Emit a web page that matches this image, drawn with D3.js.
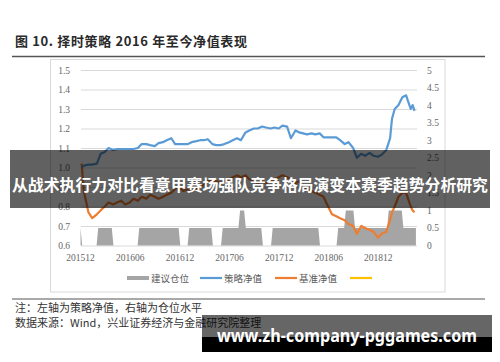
<!DOCTYPE html>
<html>
<head>
<meta charset="utf-8">
<script src="https://cdn.jsdelivr.net/npm/d3@7"></script>
<style>
  body { margin: 0; background: #fff; }
  svg { display: block; }
</style>
</head>
<body>
<div class="canvas"></div>
<script>
// net value series (semi-monthly samples)
const navDates = [
  "2015-12-07","2015-12-15",
  "2016-01-01","2016-01-15","2016-02-01","2016-02-15","2016-03-01","2016-03-15","2016-04-01","2016-04-15",
  "2016-05-01","2016-05-15","2016-06-01","2016-06-15","2016-07-01","2016-07-15","2016-08-01","2016-08-15",
  "2016-09-01","2016-09-15","2016-10-01","2016-10-15","2016-11-01","2016-11-15","2016-12-01","2016-12-15",
  "2017-01-01","2017-01-15","2017-02-01","2017-02-15","2017-03-01","2017-03-15","2017-04-01","2017-04-15",
  "2017-05-01","2017-05-15","2017-06-01","2017-06-15","2017-07-01","2017-07-15","2017-08-01","2017-08-15",
  "2017-09-01","2017-09-15","2017-10-01","2017-10-15","2017-11-01","2017-11-15","2017-12-01","2017-12-15",
  "2018-01-01","2018-01-15","2018-02-01","2018-02-15","2018-03-01","2018-03-15","2018-04-01","2018-04-15",
  "2018-05-01","2018-05-15","2018-06-01","2018-06-15","2018-07-01","2018-07-15","2018-08-01","2018-08-15",
  "2018-09-01","2018-09-15","2018-10-01","2018-10-15","2018-11-01","2018-11-15","2018-12-01","2018-12-15",
  "2019-01-01","2019-01-08","2019-01-15","2019-01-22","2019-02-01","2019-02-15","2019-03-01","2019-03-15",
  "2019-03-22","2019-04-01","2019-04-08","2019-04-15"
];
const strategyNav = [
  1.00, 1.01,
  1.015, 1.015, 1.02, 1.07, 1.08, 1.10, 1.09, 1.095, 1.095, 1.095, 1.095, 1.095, 1.10, 1.12,
  1.12, 1.115, 1.11, 1.125, 1.13, 1.14, 1.15, 1.12, 1.12, 1.12,
  1.12, 1.13, 1.135, 1.14, 1.14, 1.145, 1.12, 1.115, 1.115, 1.12, 1.13, 1.14, 1.15, 1.14,
  1.18, 1.19, 1.20, 1.20, 1.21, 1.205, 1.20, 1.205, 1.20, 1.215,
  1.21, 1.15, 1.19, 1.18, 1.175, 1.17, 1.175, 1.17, 1.175, 1.155, 1.155, 1.155, 1.155, 1.14,
  1.12, 1.13, 1.10, 1.05, 1.07, 1.06, 1.075, 1.06, 1.055, 1.065,
  1.09, 1.12, 1.15, 1.25, 1.30, 1.32, 1.36, 1.37, 1.34, 1.30, 1.32, 1.29
];
const benchmarkNav = [
  1.02, 0.88,
  0.77, 0.74, 0.76, 0.78, 0.80, 0.82, 0.81, 0.82, 0.83, 0.81, 0.82, 0.84, 0.83, 0.85,
  0.84, 0.86, 0.85, 0.84, 0.85, 0.86, 0.87, 0.89, 0.90, 0.88,
  0.89, 0.88, 0.89, 0.90, 0.91, 0.93, 0.94, 0.93, 0.92, 0.93, 0.94, 0.95, 0.96, 0.95,
  0.96, 0.94, 0.93, 0.92, 0.93, 0.92, 0.93, 0.94, 0.95, 0.96,
  0.95, 0.94, 0.92, 0.93, 0.90, 0.89, 0.88, 0.87, 0.86, 0.85, 0.80, 0.76, 0.75, 0.74,
  0.73, 0.71, 0.70, 0.66, 0.70, 0.69, 0.68, 0.67, 0.64, 0.66,
  0.67, 0.70, 0.73, 0.77, 0.80, 0.85, 0.87, 0.87, 0.84, 0.80, 0.78, 0.77
];

// suggested position (right axis), points where it changes
const posDates = [
  "2015-12-03","2015-12-09",
  "2016-01-31","2016-02-06","2016-03-27","2016-04-02",
  "2016-06-30","2016-07-06","2016-11-28","2016-12-04",
  "2016-12-31","2017-01-06","2017-03-28","2017-04-03",
  "2017-05-03","2017-05-09","2017-07-06","2017-07-12","2017-07-27","2017-08-02","2017-09-28","2017-10-04",
  "2017-11-03","2017-11-09","2018-04-26","2018-05-02",
  "2018-07-02","2018-07-08","2018-07-30","2018-08-05","2018-09-02","2018-09-08",
  "2019-01-04","2019-01-10","2019-02-27","2019-03-05","2019-04-20"
];
const posValues = [
  0.5, 0,
  0, 0.5, 0.5, 0,
  0, 0.5, 0.5, 0,
  0, 0.5, 0.5, 0,
  0, 0.5, 0.5, 1, 1, 0.5, 0.5, 0,
  0, 0.5, 0.5, 0,
  0, 0.5, 0.5, 1, 1, 0.5,
  0.5, 1, 1, 0.5, 0.5
];

const leftTicks = [0.6, 0.7, 0.8, 0.9, 1.0, 1.1, 1.2, 1.3, 1.4, 1.5];
const rightTicks = [0, 0.5, 1, 1.5, 2, 2.5, 3, 3.5, 4, 4.5, 5];
const xTickDates = ["2015-12-01","2016-06-01","2016-12-01","2017-06-01","2017-12-01","2018-06-01","2018-12-01"];
const legendNames = ["建议仓位", "策略净值", "基准净值", ""];
const legendColors = ["#a5a5a5", "#5b9bd5", "#ed7d31", "#ffc000"];

const parse = d3.timeParse("%Y-%m-%d");
const nav = navDates.map((d, i) => ({date: parse(d), s: strategyNav[i], b: benchmarkNav[i]}));
const pos = posDates.map((d, i) => ({date: parse(d), v: posValues[i]}));

const W = 500, H = 362;
const svg = d3.select(".canvas").append("svg")
    .attr("width", W).attr("height", H);

const cjk = "'Noto Sans CJK SC', sans-serif";
const serif = "'Liberation Serif', 'Times New Roman', serif";

// title + rules
svg.append("text")
    .attr("x", 15).attr("y", 45.5)
    .attr("textLength", 232).attr("lengthAdjust", "spacing")
    .style("font-family", cjk).style("font-size", "13px").style("font-weight", "bold")
    .attr("fill", "#2a2a2a")
    .text("图 10. 择时策略 2016 年至今净值表现");
svg.append("line").attr("x1", 12).attr("x2", 485).attr("y1", 56.5).attr("y2", 56.5)
    .attr("stroke", "#555").attr("stroke-width", 1.5);
svg.append("line").attr("x1", 12).attr("x2", 485).attr("y1", 299).attr("y2", 299)
    .attr("stroke", "#555").attr("stroke-width", 1.2);

// chart frame
svg.append("rect").attr("x", 50.5).attr("y", 59.5).attr("width", 394.5).attr("height", 232.5)
    .attr("fill", "#fff").attr("stroke", "#d9d9d9");

// scales
const x = d3.scaleTime().domain([parse("2015-12-01"), parse("2019-04-24")]).range([80, 417]);
const yL = d3.scaleLinear().domain([0.6, 1.5]).range([245.5, 70]);
const yR = d3.scaleLinear().domain([0, 5]).range([245.5, 70]);

// left axis with gridlines
const gL = svg.append("g").attr("transform", "translate(81,0)")
    .call(d3.axisLeft(yL).tickValues(leftTicks).tickFormat(d3.format(".1f"))
        .tickSize(-336).tickPadding(11));
gL.select(".domain").remove();
gL.selectAll("line").attr("stroke", "#d9d9d9");
gL.selectAll("text").style("font-family", serif).style("font-size", "9.5px").attr("fill", "#666");

// right axis
const gR = svg.append("g").attr("transform", "translate(417,0)")
    .call(d3.axisRight(yR).tickValues(rightTicks).tickFormat(d => d).tickSize(0).tickPadding(10));
gR.select(".domain").remove();
gR.selectAll("text").style("font-family", serif).style("font-size", "9.5px").attr("fill", "#666");

// x axis
const gX = svg.append("g").attr("transform", "translate(0,245.5)")
    .call(d3.axisBottom(x).tickValues(xTickDates.map(parse)).tickFormat(d3.timeFormat("%Y%m"))
        .tickSize(0).tickPadding(9));
gX.select(".domain").remove();
gX.selectAll("text").style("font-family", serif).style("font-size", "9.5px").attr("fill", "#666");

// position area
svg.append("path").datum(pos)
    .attr("d", d3.area().x(d => x(d.date)).y0(yR(0)).y1(d => yR(d.v)))
    .attr("fill", "#a5a5a5");

// net value lines
svg.append("path").datum(nav)
    .attr("d", d3.line().x(d => x(d.date)).y(d => yL(d.b)))
    .attr("fill", "none").attr("stroke", "#ed7d31").attr("stroke-width", 2.2)
    .attr("stroke-linejoin", "round");
svg.append("path").datum(nav)
    .attr("d", d3.line().x(d => x(d.date)).y(d => yL(d.s)))
    .attr("fill", "none").attr("stroke", "#5b9bd5").attr("stroke-width", 2.2)
    .attr("stroke-linejoin", "round");

// legend
const legX = [127, 200, 275, 350];
const leg = svg.append("g").selectAll("g").data(legendNames).join("g")
    .attr("transform", (d, i) => `translate(${legX[i]},278)`);
leg.append("rect")
    .attr("x", 0).attr("y", (d, i) => i === 0 ? -2 : -1.1)
    .attr("width", 22).attr("height", (d, i) => i === 0 ? 4 : 2.2)
    .attr("fill", (d, i) => legendColors[i]);
leg.append("text")
    .attr("x", 24).attr("y", 3.5)
    .style("font-family", cjk).style("font-size", "9.5px").attr("fill", "#595959")
    .text(d => d);

// footnotes
svg.append("text").attr("x", 15).attr("y", 312)
    .style("font-family", cjk).style("font-size", "11px").attr("fill", "#333")
    .text("注：左轴为策略净值，右轴为仓位水平");
svg.append("text").attr("x", 15).attr("y", 327)
    .style("font-family", cjk).style("font-size", "11px").attr("fill", "#333")
    .text("数据来源：Wind，兴业证券经济与金融研究院整理");

// banner overlay
svg.append("rect").attr("x", 10).attr("y", 150).attr("width", 480).attr("height", 58)
    .attr("fill", "rgba(0,0,0,0.62)");
svg.append("text").attr("x", 250).attr("y", 191)
    .attr("text-anchor", "middle")
    .attr("textLength", 476).attr("lengthAdjust", "spacingAndGlyphs")
    .style("font-family", cjk).style("font-size", "16px").style("font-weight", "bold")
    .attr("fill", "#fff")
    .text("从战术执行力对比看意甲赛场强队竞争格局演变本赛季趋势分析研究");

// site watermark
svg.append("rect").attr("x", 202).attr("y", 315).attr("width", 290).attr("height", 37)
    .attr("fill", "rgba(0,0,0,0.6)");
svg.append("rect").attr("x", 202).attr("y", 337).attr("width", 290).attr("height", 15)
    .attr("fill", "#000");
svg.append("text").attr("x", 347).attr("y", 342)
    .attr("text-anchor", "middle")
    .attr("textLength", 260).attr("lengthAdjust", "spacingAndGlyphs")
    .style("font-family", "'Noto Sans', sans-serif").style("font-size", "18px").style("font-weight", "bold")
    .attr("fill", "#fff")
    .text("www.zh-company-pggames.com");
</script>
</body>
</html>
